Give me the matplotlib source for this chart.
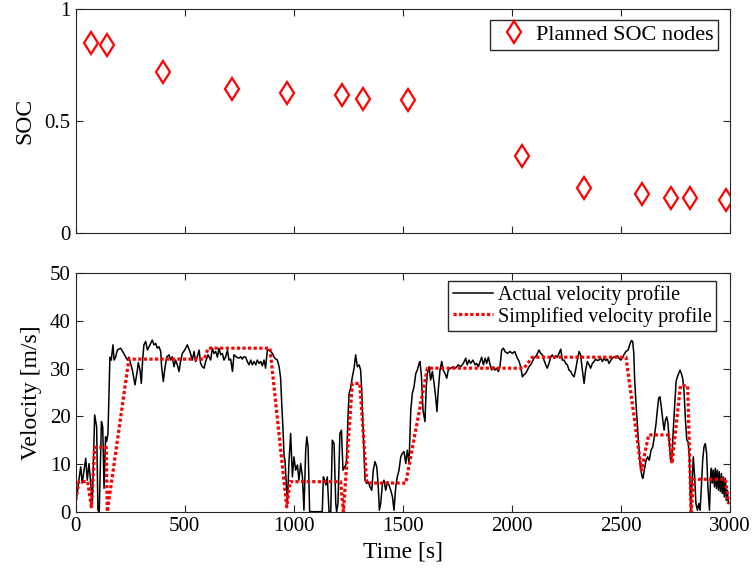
import numpy as np
import matplotlib.pyplot as plt

plt.rcParams['font.family'] = ['Liberation Serif', 'DejaVu Serif']
plt.rcParams['axes.linewidth'] = 0.8

# planned SOC nodes
soc_time = [69, 142, 399, 716, 968, 1220, 1317, 1523, 2046, 2330, 2596, 2729, 2817, 2982]
soc_value = [0.852, 0.843, 0.722, 0.646, 0.628, 0.619, 0.601, 0.596, 0.345, 0.202, 0.175, 0.157, 0.157, 0.148]

# measured velocity [s, m/s]
act_time = [0, 23, 30, 46, 53, 61, 69, 76, 87, 96, 102, 108, 118, 124, 130, 137, 142, 148,
            157, 163, 171, 176, 183, 191, 206, 218, 229, 237, 244, 260, 272, 283, 287, 295,
            301, 307, 313, 321, 329, 341, 351, 359, 367, 374, 382, 390, 394, 402, 408, 417,
            428, 436, 443, 451, 458, 466, 474, 481, 489, 500, 512, 524, 535, 543, 550, 558,
            566, 573, 581, 589, 596, 607, 619, 627, 634, 642, 650, 657, 665, 673, 680, 688,
            696, 703, 711, 719, 726, 738, 749, 757, 764, 772, 780, 787, 795, 803, 810, 818,
            826, 833, 841, 849, 856, 864, 871, 879, 887, 894, 902, 913, 925, 933, 940, 945,
            951, 956, 960, 966, 971, 978, 986, 994, 1001, 1009, 1017, 1024, 1032, 1040, 1047,
            1055, 1060, 1066, 1073, 1085, 1131, 1136, 1142, 1148, 1154, 1162, 1170, 1177, 1185,
            1193, 1197, 1203, 1212, 1219, 1226, 1234, 1242, 1249, 1254, 1261, 1269, 1277, 1284,
            1292, 1300, 1307, 1312, 1318, 1323, 1327, 1335, 1341, 1350, 1358, 1365, 1373, 1381,
            1387, 1393, 1399, 1407, 1414, 1422, 1430, 1437, 1445, 1453, 1460, 1468, 1475, 1483,
            1491, 1498, 1506, 1514, 1521, 1529, 1537, 1544, 1552, 1560, 1567, 1575, 1579, 1586,
            1593, 1598, 1602, 1608, 1613, 1621, 1628, 1636, 1644, 1651, 1657, 1663, 1671, 1679,
            1686, 1694, 1702, 1709, 1720, 1732, 1743, 1754, 1766, 1778, 1789, 1796, 1804, 1812,
            1822, 1832, 1839, 1847, 1855, 1862, 1870, 1878, 1885, 1893, 1901, 1908, 1916, 1923,
            1931, 1939, 1946, 1954, 1962, 1969, 1980, 1992, 2003, 2014, 2023, 2034, 2041, 2049,
            2056, 2064, 2072, 2079, 2087, 2095, 2102, 2110, 2118, 2125, 2133, 2141, 2148, 2156,
            2163, 2171, 2179, 2186, 2194, 2202, 2209, 2217, 2225, 2232, 2240, 2248, 2255, 2263,
            2271, 2278, 2286, 2293, 2301, 2309, 2316, 2324, 2332, 2339, 2347, 2355, 2362, 2370,
            2378, 2385, 2393, 2400, 2408, 2416, 2423, 2431, 2439, 2446, 2454, 2462, 2469, 2477,
            2485, 2492, 2500, 2508, 2514, 2524, 2534, 2541, 2549, 2555, 2560, 2564, 2570, 2575,
            2582, 2590, 2598, 2602, 2608, 2616, 2624, 2631, 2639, 2647, 2654, 2662, 2668, 2674,
            2680, 2686, 2693, 2699, 2705, 2711, 2717, 2723, 2729, 2735, 2741, 2748, 2754, 2760,
            2766, 2772, 2778, 2784, 2790, 2797, 2803, 2809, 2815, 2821, 2827, 2833, 2839, 2845,
            2852, 2858, 2864, 2870, 2876, 2882, 2888, 2894, 2900, 2907, 2913, 2916, 2920, 2925,
            2930, 2934, 2939, 2943, 2948, 2952, 2957, 2962, 2966, 2971, 2975, 2980, 2985, 2989,
            2994]
act_speed = [1.7, 9.4, 6.0, 11.2, 6.6, 10.1, 6.0, 1.7, 20.3, 17.8, 0.3, 0.0, 18.9, 17.8, 4.9, 15.7, 14.7, 16.4,
             32.4, 31.8, 35.0, 31.8, 32.4, 33.9, 34.3, 33.4, 32.5, 31.8, 32.4, 29.7, 26.6, 29.7, 31.3, 29.7,
             26.9, 31.8, 35.0, 35.7, 33.9, 35.0, 36.0, 35.0, 35.3, 34.3, 34.6, 33.6, 30.4, 27.3, 29.7, 32.4,
             32.9, 31.8, 32.5, 30.4, 31.8, 30.8, 29.4, 31.5, 33.2, 33.9, 35.0, 33.6, 31.8, 33.6, 31.5, 32.5,
             33.9, 31.1, 30.4, 30.1, 31.5, 32.9, 31.8, 34.3, 33.2, 33.6, 32.4, 34.3, 32.9, 33.2, 31.8, 32.5,
             33.9, 31.8, 32.0, 29.4, 32.9, 32.4, 32.2, 32.5, 32.0, 32.5, 32.4, 31.5, 30.8, 31.8, 30.8, 31.5,
             30.8, 31.8, 31.1, 31.5, 30.6, 31.8, 30.1, 33.9, 33.9, 33.6, 33.2, 32.2, 31.8, 30.4, 28.0, 22.7,
             17.1, 11.5, 10.8, 6.0, 1.7, 10.1, 16.4, 7.3, 11.5, 8.7, 9.8, 6.6, 10.1, 7.3, 0.3,
             12.9, 15.7, 13.6, 0.0, 0.0, 0.0, 7.3, 6.6, 5.6, 7.3, 0.0, 0.0, 15.0, 14.3,
             1.7, 0.0, 1.7, 16.4, 17.1, 8.7, 9.4, 10.1, 19.9, 24.8, 25.9, 28.3, 30.1, 32.9,
             30.4, 30.8, 29.7, 25.5, 17.8, 11.5, 6.6, 5.9, 6.3, 5.2, 4.5, 8.7, 10.5, 9.4,
             5.9, 0.3, 1.7, 5.9, 6.6, 4.5, 6.3, 5.6, 4.5, 3.1, 0.3, 5.2, 7.3, 8.7,
             11.5, 12.2, 12.6, 10.1, 12.9, 10.1, 21.3, 24.8, 26.2, 29.0, 29.7, 31.1, 31.5, 28.3,
             21.3, 19.9, 18.9, 26.2, 29.0, 30.4, 27.6, 29.4, 26.9, 24.1, 21.0, 25.5, 29.7, 31.5,
             29.7, 29.0, 28.0, 29.7, 30.1, 30.4, 30.1, 30.8, 30.4, 31.1, 32.2, 30.8, 31.8, 31.1,
             31.8, 30.8, 31.1, 30.4, 31.5, 32.4, 30.8, 32.2, 31.1, 32.4, 30.8, 29.7, 30.4, 29.7,
             30.1, 29.4, 30.4, 33.9, 34.3, 33.6, 33.2, 33.6, 33.2, 33.6, 32.5, 31.5, 30.4, 28.3,
             28.7, 29.0, 29.7, 30.4, 30.8, 31.5, 32.2, 32.5, 33.2, 33.9, 33.2, 32.9, 31.8, 30.8,
             30.1, 31.1, 32.4, 32.9, 32.2, 32.7, 32.4, 33.2, 34.1, 31.8, 31.8, 31.1, 30.8, 29.7,
             29.4, 28.7, 28.3, 29.7, 31.8, 33.6, 32.9, 29.7, 26.9, 29.7, 31.5, 30.8, 30.1, 31.1,
             31.5, 32.0, 31.7, 31.8, 32.2, 31.5, 32.2, 31.7, 32.0, 31.1, 31.7, 32.2, 32.5, 32.4,
             32.7, 32.2, 31.8, 32.2, 32.9, 33.6, 33.9, 35.0, 35.9, 35.7, 33.2, 27.6, 22.7, 19.2,
             14.3, 9.4, 7.3, 7.0, 8.7, 10.8, 11.5, 10.8, 12.9, 13.6, 15.7, 18.5, 21.3, 23.8,
             24.1, 22.0, 19.2, 17.1, 19.2, 19.9, 18.5, 14.3, 10.8, 11.5, 17.1, 22.7, 27.3, 28.3,
             29.0, 29.7, 29.0, 28.0, 25.5, 19.2, 15.0, 14.7, 11.5, 0.3, 6.0, 11.5, 7.3, 1.7,
             0.3, 1.7, 0.3, 5.2, 10.8, 13.6, 14.3, 12.2, 5.2, 0.3, 8.0, 9.1, 6.0, 8.7,
             5.2, 9.1, 4.9, 8.7, 4.5, 8.4, 4.2, 8.0, 3.8, 7.3, 3.1, 7.0, 2.4, 4.5,
             1.7]

# piecewise-linear simplified profile
sim_time = [0, 15, 55, 72, 87, 140, 145, 244, 589, 608, 891, 968, 983, 1215, 1228, 1269,
            1303, 1335, 1514, 1613, 2056, 2095, 2524, 2595, 2628, 2720, 2735, 2774, 2807,
            2823, 2835, 2980, 2995]
sim_speed = [2.4, 6.3, 6.3, 1.0, 13.5, 13.5, 0.0, 32.0, 32.0, 34.3, 34.3, 1.0, 6.3, 6.3, 0.0, 26.9,
             26.9, 6.0, 6.0, 30.1, 30.1, 32.4, 32.4, 8.7, 16.1, 16.1, 10.1, 26.4, 26.4,
             0.0, 6.8, 6.8, 1.7]

fig = plt.figure(figsize=(7.54, 5.81), dpi=100)
ax1 = fig.add_axes([0.1004, 0.5984, 0.8674, 0.3855])
ax2 = fig.add_axes([0.1004, 0.1193, 0.8674, 0.4103])

ax1.plot(soc_time, soc_value, linestyle='none', marker='d', markersize=11.5,
         markerfacecolor='none', markeredgecolor='red', markeredgewidth=1.6,
         label='Planned SOC nodes')
ax1.set_xlim(0, 3000)
ax1.set_ylim(0, 1)
ax1.set_xticks(np.arange(0, 3001, 500))
ax1.set_xticklabels([])
ax1.set_yticks([0, 0.5, 1])
ax1.set_yticklabels(['0', '0.5', '1'])
ax1.set_ylabel('SOC', fontsize=17, labelpad=7)
ax1.legend(loc='upper right', bbox_to_anchor=(0.9826, 0.952), borderaxespad=0,
           fontsize=16, fancybox=False, edgecolor='#262626', framealpha=1,
           borderpad=0.2, handlelength=1.8, handletextpad=0.1)

ax2.plot(act_time, act_speed, color='black', linewidth=1.1, label='Actual velocity profile')
ax2.plot(sim_time, sim_speed, color='red', linewidth=2.3, linestyle=(0, (1, 0.75)),
         label='Simplified velocity profile')
ax2.set_xlim(0, 3000)
ax2.set_ylim(0, 50)
ax2.set_xticks(np.arange(0, 3001, 500))
ax2.set_yticks(np.arange(0, 51, 10))
ax2.set_xlabel('Time [s]', fontsize=17)
ax2.set_ylabel('Velocity [m/s]', fontsize=17, labelpad=5.5)
ax2.legend(loc='upper right', bbox_to_anchor=(0.9786, 0.969), borderaxespad=0,
           fontsize=14.5, fancybox=False, edgecolor='#262626', framealpha=1,
           borderpad=0.2, labelspacing=0.1, handlelength=2.0, handletextpad=0.25)

for ax in (ax1, ax2):
    ax.tick_params(direction='in', length=5, width=0.8, top=True, right=True,
                   labelsize=15, colors='#262626', labelcolor='black')
    for s in ax.spines.values():
        s.set_color('#262626')

fig.savefig('out.png', dpi=100)
